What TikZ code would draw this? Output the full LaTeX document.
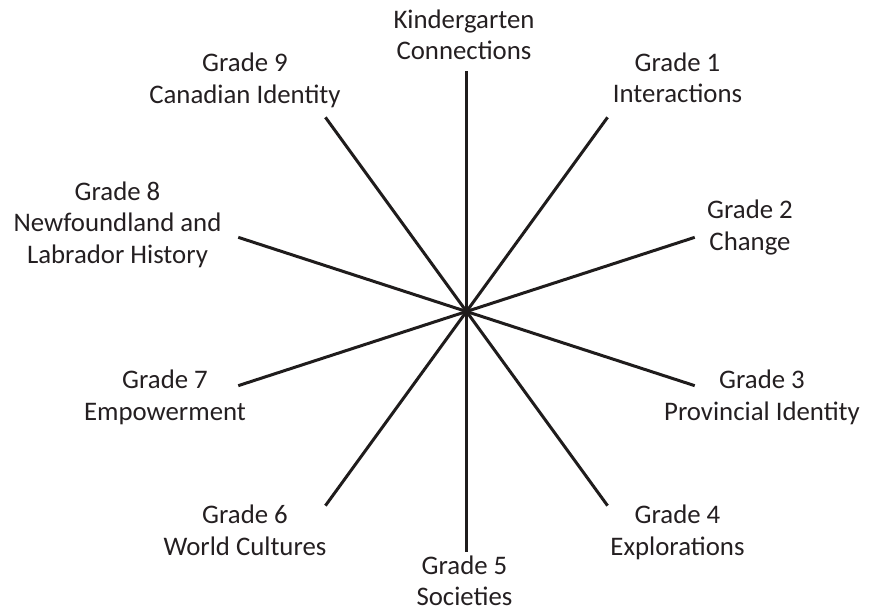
\documentclass[tikz,border=0pt]{standalone}
\usepackage{fontspec}
\setmainfont{Carlito}
\usetikzlibrary{positioning}
\definecolor{spokecolor}{rgb}{0.12,0.11,0.11}
\definecolor{textcolor}{rgb}{0.14,0.12,0.13}
\tikzset{
	spoke/.style={
		draw=spokecolor,
		line width=3pt
	},
	grade/.style={
		text=textcolor,
		align=center,
		anchor=base,
		inner sep=0pt,
		font=\fontsize{26.8}{31.3}\selectfont
	},
}

\begin{document}
\begin{tikzpicture}[x=1pt,y=1pt]
		\useasboundingbox (-466.5,-299.5) rectangle (405.5,311.5);
		\coordinate (centre) at (0,0);
		
		\foreach \a [count=\i] in {90,54,18,-18,-54,-90,-126,-162,162,126}
		{
			\coordinate (end\i) at (\a:240);
			\draw [spoke] (centre) -- (end\i);
		}
		
		\node (kinder) [grade] at (-2.5,251.5) {Kindergarten\\Connections};
		\node (grade1) [grade] at (211,208.8) {Grade 1\\Interactions};
		\node (grade2) [grade] at (283.5,61.5) {Grade 2\\Change};
		\node (grade3) [grade] at (295.5,-108.5) {Grade 3\\Provincial Identity};
		\node (grade4) [grade] at (211,-243.5) {Grade 4\\Explorations};
		\node (grade5) [grade] at (-2,-293.8) {Grade 5\\Societies};
		\node (grade6) [grade] at (-221.5,-243.5) {Grade 6\\World Cultures};
		\node (grade7) [grade] at (-301.5,-108.5) {Grade 7\\Empowerment};
		\node (grade8) [grade] at (-349,48.5) {Grade 8\\Newfoundland and\\Labrador History};
		\node (grade9) [grade] at (-221.5,208.5) {Grade 9\\Canadian Identity};
		
		\end{tikzpicture}
\end{document}
